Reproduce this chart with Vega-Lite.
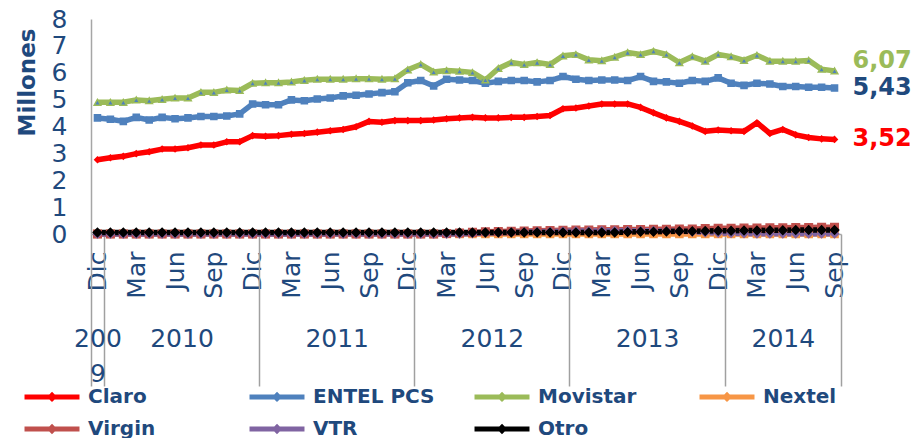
{
"$schema": "https://vega.github.io/schema/vega-lite/v6.json",
"width": 750, "height": 215,
"autosize": {"type": "none"},
"padding": {"left": 91, "top": 19, "right": 81, "bottom": 204},
"background": "white",
"config": {"view": {"stroke": null}, "font": "DejaVu Sans",
 "locale": {"number": {"decimal": ",", "thousands": ".", "grouping": [3], "currency": ["$", ""]}}},
"datasets": {"d": [
{"mes":0,"serie":"Claro","valor":2.76},{"mes":1,"serie":"Claro","valor":2.84},{"mes":2,"serie":"Claro","valor":2.89},{"mes":3,"serie":"Claro","valor":2.99},{"mes":4,"serie":"Claro","valor":3.06},{"mes":5,"serie":"Claro","valor":3.16},{"mes":6,"serie":"Claro","valor":3.16},{"mes":7,"serie":"Claro","valor":3.21},{"mes":8,"serie":"Claro","valor":3.31},{"mes":9,"serie":"Claro","valor":3.31},{"mes":10,"serie":"Claro","valor":3.43},{"mes":11,"serie":"Claro","valor":3.43},{"mes":12,"serie":"Claro","valor":3.66},{"mes":13,"serie":"Claro","valor":3.64},{"mes":14,"serie":"Claro","valor":3.66},{"mes":15,"serie":"Claro","valor":3.71},{"mes":16,"serie":"Claro","valor":3.74},{"mes":17,"serie":"Claro","valor":3.79},{"mes":18,"serie":"Claro","valor":3.84},{"mes":19,"serie":"Claro","valor":3.89},{"mes":20,"serie":"Claro","valor":3.99},{"mes":21,"serie":"Claro","valor":4.19},{"mes":22,"serie":"Claro","valor":4.16},{"mes":23,"serie":"Claro","valor":4.22},{"mes":24,"serie":"Claro","valor":4.22},{"mes":25,"serie":"Claro","valor":4.22},{"mes":26,"serie":"Claro","valor":4.24},{"mes":27,"serie":"Claro","valor":4.29},{"mes":28,"serie":"Claro","valor":4.32},{"mes":29,"serie":"Claro","valor":4.34},{"mes":30,"serie":"Claro","valor":4.32},{"mes":31,"serie":"Claro","valor":4.32},{"mes":32,"serie":"Claro","valor":4.34},{"mes":33,"serie":"Claro","valor":4.34},{"mes":34,"serie":"Claro","valor":4.37},{"mes":35,"serie":"Claro","valor":4.41},{"mes":36,"serie":"Claro","valor":4.66},{"mes":37,"serie":"Claro","valor":4.69},{"mes":38,"serie":"Claro","valor":4.76},{"mes":39,"serie":"Claro","valor":4.84},{"mes":40,"serie":"Claro","valor":4.84},{"mes":41,"serie":"Claro","valor":4.84},{"mes":42,"serie":"Claro","valor":4.71},{"mes":43,"serie":"Claro","valor":4.51},{"mes":44,"serie":"Claro","valor":4.32},{"mes":45,"serie":"Claro","valor":4.19},{"mes":46,"serie":"Claro","valor":4.02},{"mes":47,"serie":"Claro","valor":3.82},{"mes":48,"serie":"Claro","valor":3.87},{"mes":49,"serie":"Claro","valor":3.84},{"mes":50,"serie":"Claro","valor":3.82},{"mes":51,"serie":"Claro","valor":4.14},{"mes":52,"serie":"Claro","valor":3.74},{"mes":53,"serie":"Claro","valor":3.89},{"mes":54,"serie":"Claro","valor":3.69},{"mes":55,"serie":"Claro","valor":3.59},{"mes":56,"serie":"Claro","valor":3.54},{"mes":57,"serie":"Claro","valor":3.52},
{"mes":0,"serie":"ENTEL PCS","valor":4.32},{"mes":1,"serie":"ENTEL PCS","valor":4.27},{"mes":2,"serie":"ENTEL PCS","valor":4.19},{"mes":3,"serie":"ENTEL PCS","valor":4.34},{"mes":4,"serie":"ENTEL PCS","valor":4.24},{"mes":5,"serie":"ENTEL PCS","valor":4.34},{"mes":6,"serie":"ENTEL PCS","valor":4.29},{"mes":7,"serie":"ENTEL PCS","valor":4.32},{"mes":8,"serie":"ENTEL PCS","valor":4.37},{"mes":9,"serie":"ENTEL PCS","valor":4.37},{"mes":10,"serie":"ENTEL PCS","valor":4.39},{"mes":11,"serie":"ENTEL PCS","valor":4.47},{"mes":12,"serie":"ENTEL PCS","valor":4.84},{"mes":13,"serie":"ENTEL PCS","valor":4.81},{"mes":14,"serie":"ENTEL PCS","valor":4.81},{"mes":15,"serie":"ENTEL PCS","valor":4.99},{"mes":16,"serie":"ENTEL PCS","valor":4.96},{"mes":17,"serie":"ENTEL PCS","valor":5.02},{"mes":18,"serie":"ENTEL PCS","valor":5.06},{"mes":19,"serie":"ENTEL PCS","valor":5.14},{"mes":20,"serie":"ENTEL PCS","valor":5.16},{"mes":21,"serie":"ENTEL PCS","valor":5.21},{"mes":22,"serie":"ENTEL PCS","valor":5.26},{"mes":23,"serie":"ENTEL PCS","valor":5.29},{"mes":24,"serie":"ENTEL PCS","valor":5.63},{"mes":25,"serie":"ENTEL PCS","valor":5.71},{"mes":26,"serie":"ENTEL PCS","valor":5.51},{"mes":27,"serie":"ENTEL PCS","valor":5.76},{"mes":28,"serie":"ENTEL PCS","valor":5.73},{"mes":29,"serie":"ENTEL PCS","valor":5.71},{"mes":30,"serie":"ENTEL PCS","valor":5.61},{"mes":31,"serie":"ENTEL PCS","valor":5.68},{"mes":32,"serie":"ENTEL PCS","valor":5.71},{"mes":33,"serie":"ENTEL PCS","valor":5.71},{"mes":34,"serie":"ENTEL PCS","valor":5.66},{"mes":35,"serie":"ENTEL PCS","valor":5.71},{"mes":36,"serie":"ENTEL PCS","valor":5.86},{"mes":37,"serie":"ENTEL PCS","valor":5.76},{"mes":38,"serie":"ENTEL PCS","valor":5.71},{"mes":39,"serie":"ENTEL PCS","valor":5.73},{"mes":40,"serie":"ENTEL PCS","valor":5.73},{"mes":41,"serie":"ENTEL PCS","valor":5.71},{"mes":42,"serie":"ENTEL PCS","valor":5.86},{"mes":43,"serie":"ENTEL PCS","valor":5.68},{"mes":44,"serie":"ENTEL PCS","valor":5.66},{"mes":45,"serie":"ENTEL PCS","valor":5.61},{"mes":46,"serie":"ENTEL PCS","valor":5.71},{"mes":47,"serie":"ENTEL PCS","valor":5.68},{"mes":48,"serie":"ENTEL PCS","valor":5.81},{"mes":49,"serie":"ENTEL PCS","valor":5.61},{"mes":50,"serie":"ENTEL PCS","valor":5.53},{"mes":51,"serie":"ENTEL PCS","valor":5.61},{"mes":52,"serie":"ENTEL PCS","valor":5.58},{"mes":53,"serie":"ENTEL PCS","valor":5.49},{"mes":54,"serie":"ENTEL PCS","valor":5.49},{"mes":55,"serie":"ENTEL PCS","valor":5.46},{"mes":56,"serie":"ENTEL PCS","valor":5.46},{"mes":57,"serie":"ENTEL PCS","valor":5.43},
{"mes":0,"serie":"Movistar","valor":4.90},{"mes":1,"serie":"Movistar","valor":4.90},{"mes":2,"serie":"Movistar","valor":4.90},{"mes":3,"serie":"Movistar","valor":4.99},{"mes":4,"serie":"Movistar","valor":4.96},{"mes":5,"serie":"Movistar","valor":5.01},{"mes":6,"serie":"Movistar","valor":5.06},{"mes":7,"serie":"Movistar","valor":5.06},{"mes":8,"serie":"Movistar","valor":5.27},{"mes":9,"serie":"Movistar","valor":5.27},{"mes":10,"serie":"Movistar","valor":5.36},{"mes":11,"serie":"Movistar","valor":5.34},{"mes":12,"serie":"Movistar","valor":5.61},{"mes":13,"serie":"Movistar","valor":5.63},{"mes":14,"serie":"Movistar","valor":5.63},{"mes":15,"serie":"Movistar","valor":5.66},{"mes":16,"serie":"Movistar","valor":5.72},{"mes":17,"serie":"Movistar","valor":5.76},{"mes":18,"serie":"Movistar","valor":5.76},{"mes":19,"serie":"Movistar","valor":5.76},{"mes":20,"serie":"Movistar","valor":5.78},{"mes":21,"serie":"Movistar","valor":5.78},{"mes":22,"serie":"Movistar","valor":5.76},{"mes":23,"serie":"Movistar","valor":5.78},{"mes":24,"serie":"Movistar","valor":6.11},{"mes":25,"serie":"Movistar","valor":6.31},{"mes":26,"serie":"Movistar","valor":6.03},{"mes":27,"serie":"Movistar","valor":6.08},{"mes":28,"serie":"Movistar","valor":6.06},{"mes":29,"serie":"Movistar","valor":6.01},{"mes":30,"serie":"Movistar","valor":5.73},{"mes":31,"serie":"Movistar","valor":6.16},{"mes":32,"serie":"Movistar","valor":6.38},{"mes":33,"serie":"Movistar","valor":6.31},{"mes":34,"serie":"Movistar","valor":6.38},{"mes":35,"serie":"Movistar","valor":6.31},{"mes":36,"serie":"Movistar","valor":6.63},{"mes":37,"serie":"Movistar","valor":6.68},{"mes":38,"serie":"Movistar","valor":6.48},{"mes":39,"serie":"Movistar","valor":6.45},{"mes":40,"serie":"Movistar","valor":6.58},{"mes":41,"serie":"Movistar","valor":6.75},{"mes":42,"serie":"Movistar","valor":6.68},{"mes":43,"serie":"Movistar","valor":6.80},{"mes":44,"serie":"Movistar","valor":6.68},{"mes":45,"serie":"Movistar","valor":6.38},{"mes":46,"serie":"Movistar","valor":6.60},{"mes":47,"serie":"Movistar","valor":6.43},{"mes":48,"serie":"Movistar","valor":6.68},{"mes":49,"serie":"Movistar","valor":6.60},{"mes":50,"serie":"Movistar","valor":6.46},{"mes":51,"serie":"Movistar","valor":6.65},{"mes":52,"serie":"Movistar","valor":6.43},{"mes":53,"serie":"Movistar","valor":6.43},{"mes":54,"serie":"Movistar","valor":6.43},{"mes":55,"serie":"Movistar","valor":6.46},{"mes":56,"serie":"Movistar","valor":6.13},{"mes":57,"serie":"Movistar","valor":6.07},
{"mes":0,"serie":"Nextel","valor":0},{"mes":1,"serie":"Nextel","valor":0},{"mes":2,"serie":"Nextel","valor":0},{"mes":3,"serie":"Nextel","valor":0},{"mes":4,"serie":"Nextel","valor":0},{"mes":5,"serie":"Nextel","valor":0},{"mes":6,"serie":"Nextel","valor":0},{"mes":7,"serie":"Nextel","valor":0},{"mes":8,"serie":"Nextel","valor":0},{"mes":9,"serie":"Nextel","valor":0},{"mes":10,"serie":"Nextel","valor":0},{"mes":11,"serie":"Nextel","valor":0},{"mes":12,"serie":"Nextel","valor":0},{"mes":13,"serie":"Nextel","valor":0},{"mes":14,"serie":"Nextel","valor":0},{"mes":15,"serie":"Nextel","valor":0},{"mes":16,"serie":"Nextel","valor":0},{"mes":17,"serie":"Nextel","valor":0},{"mes":18,"serie":"Nextel","valor":0},{"mes":19,"serie":"Nextel","valor":0},{"mes":20,"serie":"Nextel","valor":0},{"mes":21,"serie":"Nextel","valor":0},{"mes":22,"serie":"Nextel","valor":0},{"mes":23,"serie":"Nextel","valor":0},{"mes":24,"serie":"Nextel","valor":0},{"mes":25,"serie":"Nextel","valor":0},{"mes":26,"serie":"Nextel","valor":0},{"mes":27,"serie":"Nextel","valor":0},{"mes":28,"serie":"Nextel","valor":0},{"mes":29,"serie":"Nextel","valor":0},{"mes":30,"serie":"Nextel","valor":0},{"mes":31,"serie":"Nextel","valor":0},{"mes":32,"serie":"Nextel","valor":0},{"mes":33,"serie":"Nextel","valor":0},{"mes":34,"serie":"Nextel","valor":0},{"mes":35,"serie":"Nextel","valor":0},{"mes":36,"serie":"Nextel","valor":0},{"mes":37,"serie":"Nextel","valor":0},{"mes":38,"serie":"Nextel","valor":0},{"mes":39,"serie":"Nextel","valor":0},{"mes":40,"serie":"Nextel","valor":0},{"mes":41,"serie":"Nextel","valor":0},{"mes":42,"serie":"Nextel","valor":0},{"mes":43,"serie":"Nextel","valor":0},{"mes":44,"serie":"Nextel","valor":0},{"mes":45,"serie":"Nextel","valor":0},{"mes":46,"serie":"Nextel","valor":0},{"mes":47,"serie":"Nextel","valor":0},{"mes":48,"serie":"Nextel","valor":0},{"mes":49,"serie":"Nextel","valor":0},{"mes":50,"serie":"Nextel","valor":0},{"mes":51,"serie":"Nextel","valor":0},{"mes":52,"serie":"Nextel","valor":0},{"mes":53,"serie":"Nextel","valor":0},{"mes":54,"serie":"Nextel","valor":0},{"mes":55,"serie":"Nextel","valor":0},{"mes":56,"serie":"Nextel","valor":0},{"mes":57,"serie":"Nextel","valor":0},
{"mes":0,"serie":"Virgin","valor":0},{"mes":1,"serie":"Virgin","valor":0},{"mes":2,"serie":"Virgin","valor":0},{"mes":3,"serie":"Virgin","valor":0},{"mes":4,"serie":"Virgin","valor":0},{"mes":5,"serie":"Virgin","valor":0},{"mes":6,"serie":"Virgin","valor":0},{"mes":7,"serie":"Virgin","valor":0},{"mes":8,"serie":"Virgin","valor":0},{"mes":9,"serie":"Virgin","valor":0},{"mes":10,"serie":"Virgin","valor":0},{"mes":11,"serie":"Virgin","valor":0},{"mes":12,"serie":"Virgin","valor":0},{"mes":13,"serie":"Virgin","valor":0},{"mes":14,"serie":"Virgin","valor":0},{"mes":15,"serie":"Virgin","valor":0},{"mes":16,"serie":"Virgin","valor":0},{"mes":17,"serie":"Virgin","valor":0},{"mes":18,"serie":"Virgin","valor":0},{"mes":19,"serie":"Virgin","valor":0},{"mes":20,"serie":"Virgin","valor":0},{"mes":21,"serie":"Virgin","valor":0},{"mes":22,"serie":"Virgin","valor":0},{"mes":23,"serie":"Virgin","valor":0},{"mes":24,"serie":"Virgin","valor":0},{"mes":25,"serie":"Virgin","valor":0},{"mes":26,"serie":"Virgin","valor":0},{"mes":27,"serie":"Virgin","valor":0.02},{"mes":28,"serie":"Virgin","valor":0.04},{"mes":29,"serie":"Virgin","valor":0.06},{"mes":30,"serie":"Virgin","valor":0.08},{"mes":31,"serie":"Virgin","valor":0.09},{"mes":32,"serie":"Virgin","valor":0.10},{"mes":33,"serie":"Virgin","valor":0.11},{"mes":34,"serie":"Virgin","valor":0.12},{"mes":35,"serie":"Virgin","valor":0.13},{"mes":36,"serie":"Virgin","valor":0.14},{"mes":37,"serie":"Virgin","valor":0.15},{"mes":38,"serie":"Virgin","valor":0.15},{"mes":39,"serie":"Virgin","valor":0.16},{"mes":40,"serie":"Virgin","valor":0.16},{"mes":41,"serie":"Virgin","valor":0.17},{"mes":42,"serie":"Virgin","valor":0.17},{"mes":43,"serie":"Virgin","valor":0.18},{"mes":44,"serie":"Virgin","valor":0.18},{"mes":45,"serie":"Virgin","valor":0.19},{"mes":46,"serie":"Virgin","valor":0.19},{"mes":47,"serie":"Virgin","valor":0.20},{"mes":48,"serie":"Virgin","valor":0.21},{"mes":49,"serie":"Virgin","valor":0.21},{"mes":50,"serie":"Virgin","valor":0.22},{"mes":51,"serie":"Virgin","valor":0.22},{"mes":52,"serie":"Virgin","valor":0.23},{"mes":53,"serie":"Virgin","valor":0.23},{"mes":54,"serie":"Virgin","valor":0.24},{"mes":55,"serie":"Virgin","valor":0.24},{"mes":56,"serie":"Virgin","valor":0.25},{"mes":57,"serie":"Virgin","valor":0.25},
{"mes":0,"serie":"VTR","valor":0},{"mes":1,"serie":"VTR","valor":0},{"mes":2,"serie":"VTR","valor":0},{"mes":3,"serie":"VTR","valor":0},{"mes":4,"serie":"VTR","valor":0},{"mes":5,"serie":"VTR","valor":0},{"mes":6,"serie":"VTR","valor":0},{"mes":7,"serie":"VTR","valor":0},{"mes":8,"serie":"VTR","valor":0},{"mes":9,"serie":"VTR","valor":0},{"mes":10,"serie":"VTR","valor":0},{"mes":11,"serie":"VTR","valor":0},{"mes":12,"serie":"VTR","valor":0},{"mes":13,"serie":"VTR","valor":0},{"mes":14,"serie":"VTR","valor":0},{"mes":15,"serie":"VTR","valor":0},{"mes":16,"serie":"VTR","valor":0},{"mes":17,"serie":"VTR","valor":0},{"mes":18,"serie":"VTR","valor":0},{"mes":19,"serie":"VTR","valor":0},{"mes":20,"serie":"VTR","valor":0},{"mes":21,"serie":"VTR","valor":0},{"mes":22,"serie":"VTR","valor":0},{"mes":23,"serie":"VTR","valor":0},{"mes":24,"serie":"VTR","valor":0},{"mes":25,"serie":"VTR","valor":0},{"mes":26,"serie":"VTR","valor":0},{"mes":27,"serie":"VTR","valor":0},{"mes":28,"serie":"VTR","valor":0},{"mes":29,"serie":"VTR","valor":0.02},{"mes":30,"serie":"VTR","valor":0.04},{"mes":31,"serie":"VTR","valor":0.05},{"mes":32,"serie":"VTR","valor":0.06},{"mes":33,"serie":"VTR","valor":0.07},{"mes":34,"serie":"VTR","valor":0.08},{"mes":35,"serie":"VTR","valor":0.09},{"mes":36,"serie":"VTR","valor":0.10},{"mes":37,"serie":"VTR","valor":0.11},{"mes":38,"serie":"VTR","valor":0.11},{"mes":39,"serie":"VTR","valor":0.12},{"mes":40,"serie":"VTR","valor":0.12},{"mes":41,"serie":"VTR","valor":0.12},{"mes":42,"serie":"VTR","valor":0.12},{"mes":43,"serie":"VTR","valor":0.12},{"mes":44,"serie":"VTR","valor":0.11},{"mes":45,"serie":"VTR","valor":0.10},{"mes":46,"serie":"VTR","valor":0.08},{"mes":47,"serie":"VTR","valor":0.06},{"mes":48,"serie":"VTR","valor":0.04},{"mes":49,"serie":"VTR","valor":0.03},{"mes":50,"serie":"VTR","valor":0.02},{"mes":51,"serie":"VTR","valor":0.01},{"mes":52,"serie":"VTR","valor":0.01},{"mes":53,"serie":"VTR","valor":0.01},{"mes":54,"serie":"VTR","valor":0.01},{"mes":55,"serie":"VTR","valor":0.01},{"mes":56,"serie":"VTR","valor":0.01},{"mes":57,"serie":"VTR","valor":0.01},
{"mes":0,"serie":"Otro","valor":0.06},{"mes":1,"serie":"Otro","valor":0.06},{"mes":2,"serie":"Otro","valor":0.06},{"mes":3,"serie":"Otro","valor":0.06},{"mes":4,"serie":"Otro","valor":0.06},{"mes":5,"serie":"Otro","valor":0.06},{"mes":6,"serie":"Otro","valor":0.06},{"mes":7,"serie":"Otro","valor":0.06},{"mes":8,"serie":"Otro","valor":0.06},{"mes":9,"serie":"Otro","valor":0.06},{"mes":10,"serie":"Otro","valor":0.06},{"mes":11,"serie":"Otro","valor":0.06},{"mes":12,"serie":"Otro","valor":0.06},{"mes":13,"serie":"Otro","valor":0.06},{"mes":14,"serie":"Otro","valor":0.06},{"mes":15,"serie":"Otro","valor":0.06},{"mes":16,"serie":"Otro","valor":0.06},{"mes":17,"serie":"Otro","valor":0.06},{"mes":18,"serie":"Otro","valor":0.06},{"mes":19,"serie":"Otro","valor":0.06},{"mes":20,"serie":"Otro","valor":0.06},{"mes":21,"serie":"Otro","valor":0.06},{"mes":22,"serie":"Otro","valor":0.06},{"mes":23,"serie":"Otro","valor":0.06},{"mes":24,"serie":"Otro","valor":0.06},{"mes":25,"serie":"Otro","valor":0.06},{"mes":26,"serie":"Otro","valor":0.06},{"mes":27,"serie":"Otro","valor":0.06},{"mes":28,"serie":"Otro","valor":0.06},{"mes":29,"serie":"Otro","valor":0.06},{"mes":30,"serie":"Otro","valor":0.06},{"mes":31,"serie":"Otro","valor":0.06},{"mes":32,"serie":"Otro","valor":0.06},{"mes":33,"serie":"Otro","valor":0.06},{"mes":34,"serie":"Otro","valor":0.06},{"mes":35,"serie":"Otro","valor":0.06},{"mes":36,"serie":"Otro","valor":0.06},{"mes":37,"serie":"Otro","valor":0.06},{"mes":38,"serie":"Otro","valor":0.06},{"mes":39,"serie":"Otro","valor":0.06},{"mes":40,"serie":"Otro","valor":0.06},{"mes":41,"serie":"Otro","valor":0.07},{"mes":42,"serie":"Otro","valor":0.08},{"mes":43,"serie":"Otro","valor":0.08},{"mes":44,"serie":"Otro","valor":0.09},{"mes":45,"serie":"Otro","valor":0.10},{"mes":46,"serie":"Otro","valor":0.10},{"mes":47,"serie":"Otro","valor":0.11},{"mes":48,"serie":"Otro","valor":0.12},{"mes":49,"serie":"Otro","valor":0.12},{"mes":50,"serie":"Otro","valor":0.13},{"mes":51,"serie":"Otro","valor":0.13},{"mes":52,"serie":"Otro","valor":0.14},{"mes":53,"serie":"Otro","valor":0.14},{"mes":54,"serie":"Otro","valor":0.15},{"mes":55,"serie":"Otro","valor":0.15},{"mes":56,"serie":"Otro","valor":0.15},{"mes":57,"serie":"Otro","valor":0.15}
]},
"data": {"name": "d"},
"encoding": {
 "y": {"field": "valor", "type": "quantitative", "scale": {"domain": [0, 8], "nice": false, "zero": true},
  "axis": {"values": [0,1,2,3,4,5,6,7,8], "labelFontSize": 25, "labelColor": "#1F497D", "labelPadding": 24, "ticks": false, "grid": false,
   "labelOverlap": false, "labelFlush": false, "domainColor": "#A6A6A6", "domainWidth": 1.5,
   "title": "Millones", "titleFontSize": 23, "titleFontWeight": "bold", "titleColor": "#1F497D", "titleX": -64, "titleY": 63, "titleAngle": -90, "titleAlign": "center", "titleBaseline": "middle"}}
},
"layer": [
 {"mark": {"type": "line", "strokeWidth": 5.5, "strokeJoin": "round"},
  "encoding": {
   "x": {"field": "mes", "type": "quantitative", "scale": {"domain": [-0.5, 57.5], "nice": false, "zero": false},
    "axis": {"orient": "bottom", "values": [0,3,6,9,12,15,18,21,24,27,30,33,36,39,42,45,48,51,54,57],
     "labelExpr": "['Dic','Mar','Jun','Sep'][floor(datum.value/3) % 4]", "labelAngle": -90, "labelAlign": "right", "labelBaseline": "middle",
     "labelFontSize": 25, "labelColor": "#1F497D", "labelPadding": 17, "ticks": false, "grid": false, "domain": true, "domainColor": "#A6A6A6", "domainWidth": 1.5,
     "title": null, "labelFlush": false, "labelOverlap": false, "labelBound": false}},
   "color": {"field": "serie", "type": "nominal",
    "scale": {"domain": ["Claro","ENTEL PCS","Movistar","Nextel","Virgin","VTR","Otro"], "range": ["#FF0000","#4F81BD","#9BBB59","#F79646","#C0504D","#8064A2","#000000"]},
    "legend": {"orient": "none", "legendX": -56.5, "legendY": 360, "direction": "horizontal", "columns": 4, "gridAlign": "all", "columnPadding": 29, "rowPadding": 2.5, "title": null, "padding": 0,
     "labelFontSize": 20, "labelFontWeight": "bold", "labelColor": "#1F497D", "labelFont": "DejaVu Sans", "labelOffset": 18.5, "labelLimit": 300,
     "symbolSize": 900, "symbolStrokeWidth": 5, "symbolType": "M-1.833,0L1.833,0M0,-0.11L0.11,0L0,0.11L-0.11,0Z"}}
  }},
 {"mark": {"type": "point", "filled": true, "strokeWidth": 1.5, "opacity": 1},
  "encoding": {
   "x": {"field": "mes", "type": "quantitative", "scale": {"domain": [-0.5, 57.5], "nice": false, "zero": false},
    "axis": {"orient": "bottom", "values": [-0.5,0.5,12.5,24.5,36.5,48.5,57.5], "labels": false, "ticks": true, "tickSize": 152, "tickColor": "#A0A0A0", "tickWidth": 1.5, "domain": false, "grid": false, "title": null}},
   "shape": {"field": "serie", "type": "nominal", "legend": null,
    "scale": {"domain": ["Otro","VTR","Virgin","Nextel","Movistar","ENTEL PCS","Claro"], "range": ["diamond","diamond","square","square","triangle-up","square","diamond"]}},
   "fill": {"field": "serie", "type": "nominal", "legend": null,
    "scale": {"domain": ["Otro","VTR","Virgin","Nextel","Movistar","ENTEL PCS","Claro"], "range": ["#000000","#8064A2","#C0504D","#F79646","#4F81BD","#4F81BD","#FF0000"]}},
   "stroke": {"field": "serie", "type": "nominal", "legend": null,
    "scale": {"domain": ["Otro","VTR","Virgin","Nextel","Movistar","ENTEL PCS","Claro"], "range": ["#000000","#8064A2","#C0504D","#F79646","#9BBB59","#4F81BD","#FF0000"]}},
   "size": {"field": "serie", "type": "nominal", "legend": null,
    "scale": {"domain": ["Otro","VTR","Virgin","Nextel","Movistar","ENTEL PCS","Claro"], "range": [70, 30, 25, 25, 100, 70, 60]}}
  }},
 {"transform": [{"filter": "datum.mes == 57 && datum.serie == 'Movistar'"}],
  "mark": {"type": "text", "align": "left", "baseline": "middle", "dx": 18, "dy": -10, "fontSize": 24, "fontWeight": "bold", "color": "#9BBB59"},
  "encoding": {
   "x": {"field": "mes", "type": "quantitative", "scale": {"domain": [-0.5, 57.5], "nice": false, "zero": false},
    "axis": {"orient": "bottom", "values": [0,6.5,18.5,30.5,42.5,53],
     "labelExpr": "datum.value == 0 ? ['200','9'] : datum.value < 10 ? '2010' : datum.value < 20 ? '2011' : datum.value < 32 ? '2012' : datum.value < 44 ? '2013' : '2014'",
     "labelAngle": 0, "labelAlign": "center", "labelBaseline": "top", "labelPadding": 92, "labelFontSize": 25, "labelColor": "#1F497D", "labelLineHeight": 35,
     "ticks": false, "domain": false, "grid": false, "title": null, "labelOverlap": false, "labelFlush": false, "labelBound": false}},
   "text": {"field": "valor", "type": "quantitative", "format": ".2f"}
  }},
 {"transform": [{"filter": "datum.mes == 57 && (datum.serie == 'Claro' || datum.serie == 'ENTEL PCS')"}],
  "mark": {"type": "text", "align": "left", "baseline": "middle", "dx": 18, "fontSize": 24, "fontWeight": "bold"},
  "encoding": {
   "x": {"field": "mes", "type": "quantitative", "scale": {"domain": [-0.5, 57.5], "nice": false, "zero": false}, "axis": null},
   "text": {"field": "valor", "type": "quantitative", "format": ".2f"},
   "color": {"condition": {"test": "datum.serie == 'Claro'", "value": "#FF0000"}, "value": "#1F497D"}
  }}
],
"resolve": {"scale": {"x": "shared"}, "axis": {"x": "independent"}}
}
